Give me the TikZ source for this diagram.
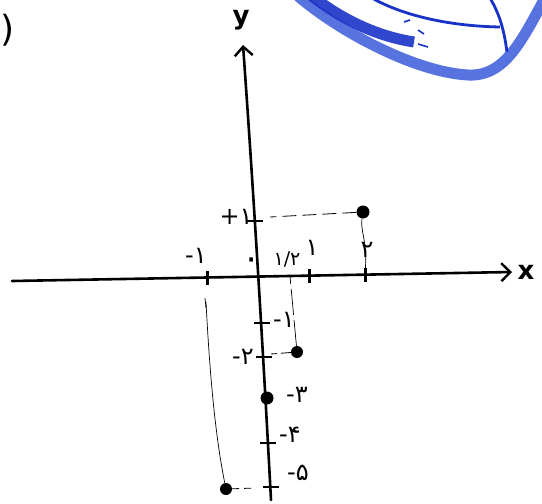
\documentclass[tikz,border=0pt]{standalone}
\usepackage{fontspec}
\setmainfont{DejaVu Sans}
\usetikzlibrary{arrows.meta}
\definecolor{penblue}{RGB}{45,80,215}
\definecolor{inkblue}{RGB}{25,50,200}
\begin{document}
\begin{tikzpicture}[x=1pt,y=-1pt,
  axisline/.style={line width=2.6pt, line cap=round,
    -{Straight Barb[length=9pt,width=18pt,line width=2.4pt]}},
  xtick/.style={line width=3pt},
  ytick/.style={line width=1.6pt},
  pt/.style={circle, fill=black, inner sep=0pt, minimum size=13pt},
  hguide/.style={line width=0.8pt, dash pattern=on 14pt off 6pt},
  vguide/.style={line width=0.7pt},
  lab/.style={inner sep=0pt, font=\fontsize{24}{24}\selectfont},
  axlab/.style={inner sep=0pt, font=\fontsize{26}{26}\selectfont\bfseries},
]
\useasboundingbox (0,0) rectangle (542,504);

% blue scribble (top right)
\draw[penblue, line width=11pt, line cap=round, opacity=0.8]
  (298,-4) .. controls (340,32) and (415,72) .. (468,75)
  .. controls (505,77) and (522,40) .. (545,-2);
\draw[inkblue, line width=11pt, line cap=butt, opacity=0.9]
  (312,-4) .. controls (340,18) and (375,36) .. (414,42);
\draw[inkblue, line width=2.8pt]
  (372,-2) .. controls (400,14) and (445,26) .. (500,27);
\draw[inkblue, line width=2.8pt]
  (490,-2) .. controls (500,15) and (504,30) .. (507,52);
\draw[inkblue, line width=1.6pt] (418,30) -- (424,34) (418,44) -- (428,47) (404,22) -- (410,20);

% parenthesis at top left
\node[anchor=west, inner sep=0pt, font=\fontsize{36}{36}\selectfont] (paren) at (0.5,30) {)};

% axes
\coordinate (xl) at (12,281);
\coordinate (xr) at (512,272);
\coordinate (yb) at (271,500);
\coordinate (yt) at (243,45);
\draw[axisline] (xl) -- (xr);
\draw[axisline] (yb) .. controls (262,330) and (252,170) .. (yt);
\node[axlab] (xlab) at (526,272) {x};
\node[axlab] (ylab) at (241,20) {y};

% x ticks
\coordinate (xm1) at (207,277.5);
\coordinate (xh) at (290,276);
\coordinate (x1) at (309,275.7);
\coordinate (x2) at (365,274.6);
\foreach \t in {xm1,x1,x2}
  \draw[xtick] ([yshift=-7pt]\t) -- ([yshift=7pt]\t);

% y ticks
\coordinate (y1) at (255,221);
\coordinate (ym1) at (262,323);
\coordinate (ym2) at (264,357);
\coordinate (ym4) at (268,443);
\coordinate (ym5) at (271,487);
\foreach \t in {y1,ym1,ym2,ym4,ym5}
  \draw[ytick] ([xshift=-8pt]\t) -- ([xshift=8pt]\t);

% points
\node[pt] (P1) at (363,212) {};
\node[pt, minimum size=12pt] (P2) at (297,352) {};
\node[pt] (P3) at (267,398) {};
\node[pt, minimum size=12pt] (P4) at (226,489) {};

% guide lines
\coordinate (g1) at (270,217);
\coordinate (g2) at (271,354);
\coordinate (g4) at (256,488);
\coordinate (gm1) at (206,302);
\draw[hguide] (P1) -- (g1);
\draw[vguide] (P1) .. controls (360,232) and (368,240) .. (x2);
\draw[hguide, dash pattern=on 10pt off 4pt] (P2) -- (g2);
\draw[vguide, dash pattern=on 26pt off 5pt] (P2) -- (xh);
\draw[hguide, dash pattern=on 7pt off 5pt] (P4) -- (g4);
\draw[vguide] (P4) .. controls (214,430) and (209,360) .. (gm1);
\draw[vguide] (205,298) -- (206,308);

% labels
\node[lab] (lxm1) at (196,256) {-۱};
\node[lab, font=\fontsize{19}{19}\selectfont] (lxh) at (287,259) {۱/۲};
\node[lab] (lx1) at (312,248) {۱};
\node[lab] (lx2) at (367,250) {۲};
\node[lab, font=\fontsize{34}{34}\selectfont] (lorig) at (252,264) {۰};
\node[lab] (ly1) at (236,217) {+۱};
\node[lab] (lym1) at (284,320) {-۱};
\node[lab] (lym2) at (243,357) {-۲};
\node[lab] (lym3) at (297,395) {-۳};
\node[lab] (lym4) at (290,435) {-۴};
\node[lab] (lym5) at (298,473) {-۵};
\end{tikzpicture}
\end{document}
